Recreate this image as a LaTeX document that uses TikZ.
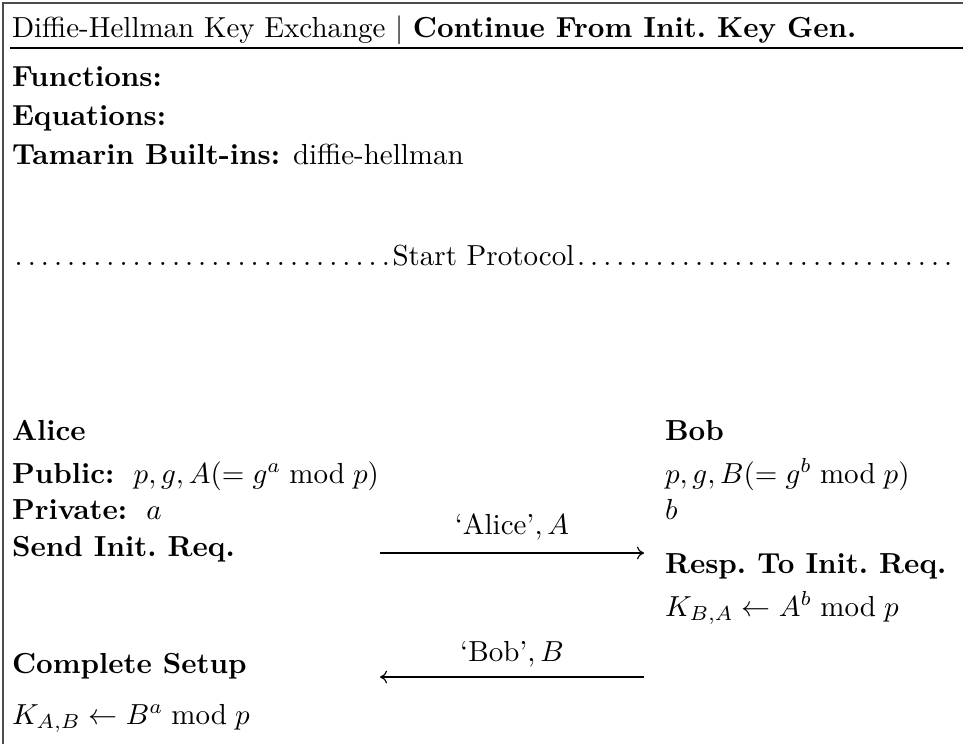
\documentclass[tikz,border=0pt]{standalone}
\usetikzlibrary{arrows.meta}
\newcommand{\mydotrule}{\xleaders\hbox to 0.44em{\hss.\hss}\hfill}
\begin{document}
\begin{tikzpicture}[x=0.345pt,y=-0.345pt,
  txt/.style={anchor=base west,inner sep=0pt,outer sep=0pt},
  ctxt/.style={anchor=base,inner sep=0pt,outer sep=0pt},
  frameline/.style={line width=0.5pt,draw=black!70},
  msg/.style={line width=0.4pt,-{Computer Modern Rightarrow[length=2.4pt,width=4.4pt]}}]
\useasboundingbox (0,0) rectangle (963,744);
% frame
\draw[frameline] (3,744) -- (3,3) -- (963,3);
\draw[line width=0.4pt] (10,48) -- (963,48);
% header
\node[txt] (head) at (12,38) {Diffie-Hellman Key Exchange $|$ \textbf{Continue From Init.\ Key Gen.}};
% preamble lines
\node[txt] (fun) at (12,87) {\textbf{Functions:}};
\node[txt] (eq) at (12,126) {\textbf{Equations:}};
\node[txt] (tam) at (12,165) {\textbf{Tamarin Built-ins:} diffie-hellman};
\node[txt] (start) at (12,265) {\makebox[325.3pt]{\mydotrule Start Protocol\mydotrule}};
% roles
\node[txt] (alice) at (12,440) {\textbf{Alice}};
\node[txt] (bob) at (665,440) {\textbf{Bob}};
\node[txt] (apub) at (12,483) {\textbf{Public:}\ \ $p, g, A (= g^a \bmod p)$};
\node[txt] (bpub) at (665,483) {$p, g, B (= g^b \bmod p)$};
\node[txt] (apriv) at (12,519) {\textbf{Private:}\ \ $a$};
\node[txt] (bpriv) at (665,519) {$b$};
\node[txt] (send) at (12,556) {\textbf{Send Init.\ Req.}};
\node[txt] (resp) at (665,573) {\textbf{Resp.\ To Init.\ Req.}};
\node[txt] (kba) at (665,616) {$K_{B,A} \leftarrow A^b \bmod p$};
\node[txt] (comp) at (12,673) {\textbf{Complete Setup}};
\node[txt] (kab) at (12,724) {$K_{A,B} \leftarrow B^a \bmod p$};
% messages
\coordinate (m1s) at (380,553);
\coordinate (m1e) at (644,553);
\coordinate (m2s) at (644,677);
\coordinate (m2e) at (380,677);
\node[ctxt] (l1) at (512,534) {$\mbox{`Alice'}, A$};
\node[ctxt] (l2) at (512,661) {$\mbox{`Bob'}, B$};
\draw[msg] (m1s) -- (m1e);
\draw[msg] (m2s) -- (m2e);
\end{tikzpicture}
\end{document}
